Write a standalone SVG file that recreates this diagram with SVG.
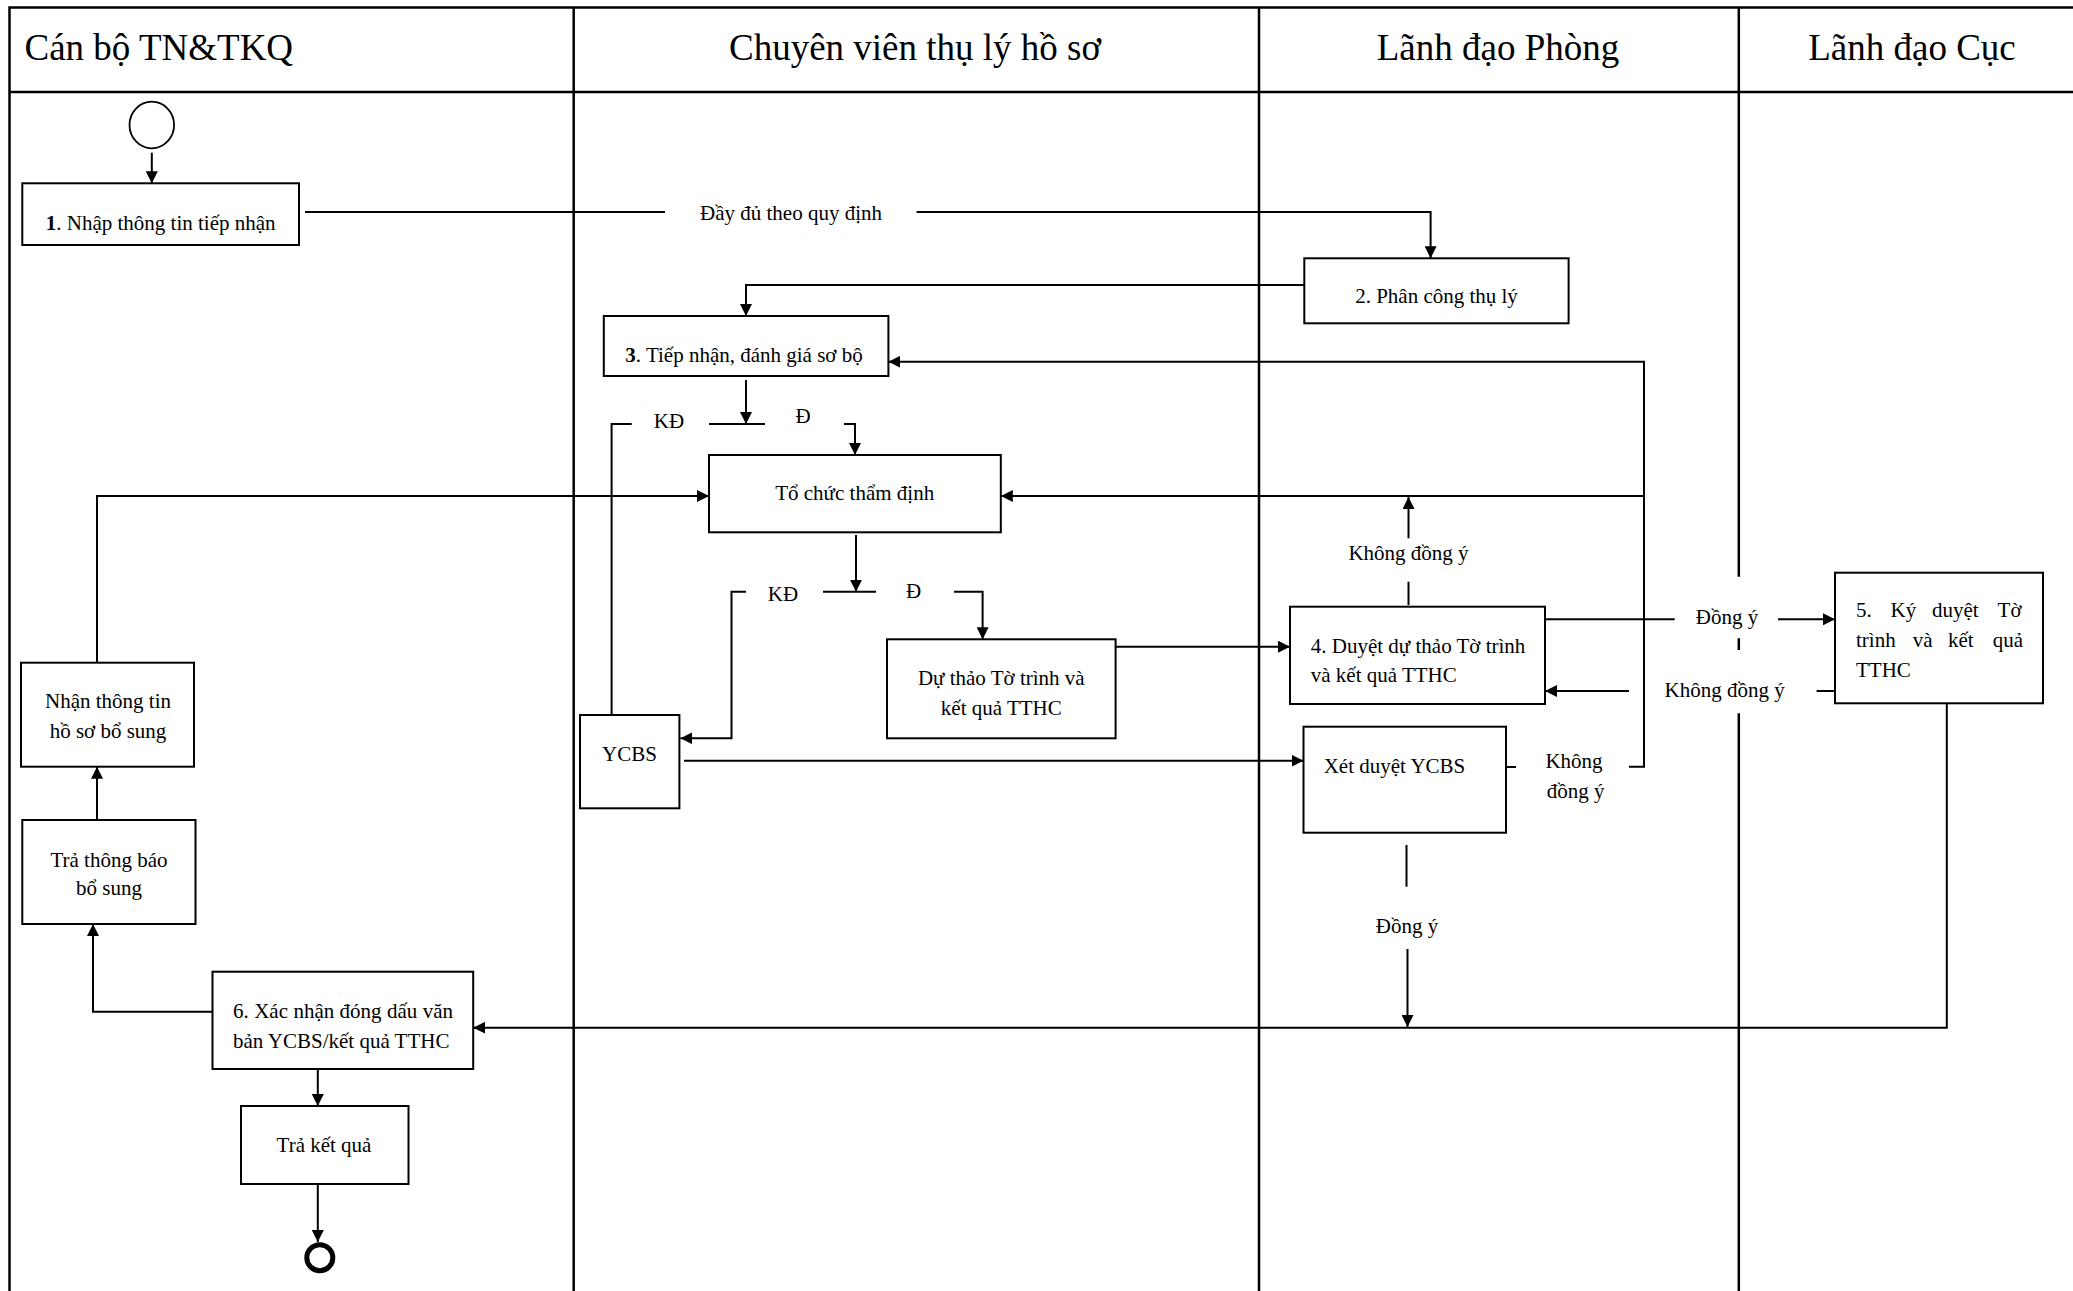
<svg xmlns="http://www.w3.org/2000/svg" width="2073" height="1291" viewBox="0 0 2073 1291">
<defs>
<style>
.fr{stroke:#000;stroke-width:2.5;fill:none}
.ln{stroke:#000;stroke-width:2;fill:none}
.ar{marker-end:url(#ah)}
.box{fill:#fff;stroke:#000;stroke-width:2}
.t{font-family:"Liberation Serif","Times New Roman","DejaVu Serif",serif;font-size:21px;fill:#000}
.c{text-anchor:middle}
.h{font-size:37px}
.b{font-weight:bold}
</style>
<marker id="ah" viewBox="0 0 10 10" refX="10" refY="5" markerWidth="12" markerHeight="12" markerUnits="userSpaceOnUse" orient="auto"><path d="M0,0 L10,5 L0,10 z" fill="#000"/></marker>
</defs>
<rect width="2073" height="1291" fill="#fff"/>
<g id="lanes">
<path class="fr" d="M9.5,1291 V7.5 H2073 M9.5,92 H2073 M573.7,7.5 V1291 M1259,7.5 V1291 M1738.8,7.5 V576.7 M1738.8,638.3 V650 M1738.8,713.3 V1291"/>
<text class="t h" x="24.5" y="60">Cán bộ TN&amp;TKQ</text>
<text class="t h c" x="915" y="60">Chuyên viên thụ lý hồ sơ</text>
<text class="t h c" x="1498" y="60">Lãnh đạo Phòng</text>
<text class="t h c" x="1912" y="60">Lãnh đạo Cục</text>
</g>
<g id="connectors">
<path class="ln ar" d="M151.8,152.7 V183.3"/>
<path class="ln" d="M305,212 H665"/>
<path class="ln ar" d="M916.6,212 H1430.6 V258.3"/>
<path class="ln ar" d="M1304.3,285 H746 V316"/>
<path class="ln ar" d="M746,380 V424"/>
<path class="ln" d="M709,424 H765"/>
<path class="ln" d="M631.7,424 H611.6 V715"/>
<path class="ln ar" d="M844,424 H855 V455"/>
<path class="ln ar" d="M856,535 V591.7"/>
<path class="ln" d="M823,591.7 H876"/>
<path class="ln ar" d="M746,591.7 H731.5 V738.3 H680.4"/>
<path class="ln ar" d="M954,591.7 H982.6 V639.3"/>
<path class="ln ar" d="M1115.6,646.7 H1290"/>
<path class="ln ar" d="M684,760.7 H1303.5"/>
<path class="ln ar" d="M97,662.7 V496 H709"/>
<path class="ln ar" d="M97,820 V766.7"/>
<path class="ln ar" d="M212.5,1011.7 H93 V924"/>
<path class="ln ar" d="M317.8,1069 V1106"/>
<path class="ln ar" d="M317.8,1184 V1242"/>
<path class="ln ar" d="M1629,766.7 H1644 V361.7 H888.4"/>
<path class="ln ar" d="M1644,496 H1000.8"/>
<path class="ln" d="M1408.5,605 V581.7"/>
<path class="ln ar" d="M1408.5,538.3 V497"/>
<path class="ln" d="M1545,619.3 H1674.7"/>
<path class="ln ar" d="M1778,619.3 H1835"/>
<path class="ln" d="M1835,691 H1816.6"/>
<path class="ln ar" d="M1629,691 H1545"/>
<path class="ln" d="M1506,767 H1516"/>
<path class="ln" d="M1406.5,845 V886.7"/>
<path class="ln ar" d="M1407.5,949 V1027"/>
<path class="ln ar" d="M1946.8,703.3 V1027.7 H473.2"/>
<text class="t c" x="791" y="220">Đầy đủ theo quy định</text>
<text class="t c" x="669" y="428">KĐ</text>
<text class="t c" x="803" y="423">Đ</text>
<text class="t c" x="783" y="601">KĐ</text>
<text class="t c" x="913.5" y="598">Đ</text>
<text class="t c" x="1408.5" y="560">Không đồng ý</text>
<text class="t c" x="1727" y="623.5">Đồng ý</text>
<text class="t c" x="1724.7" y="697">Không đồng ý</text>
<text class="t c" x="1574" y="768">Không</text>
<text class="t c" x="1575.5" y="798">đồng ý</text>
<text class="t c" x="1407" y="933.3">Đồng ý</text>
</g>
<g id="start"><ellipse cx="151.8" cy="125" rx="22.3" ry="23.3" fill="#fff" stroke="#000" stroke-width="1.8"/></g>
<g id="n1"><rect class="box" x="22.3" y="183.3" width="276.7" height="61.7"/><text class="t c" x="160.7" y="230"><tspan class="b">1</tspan>. Nhập thông tin tiếp nhận</text></g>
<g id="n2"><rect class="box" x="1304.3" y="258.3" width="264.3" height="65"/><text class="t c" x="1436.5" y="303.3">2. Phân công thụ lý</text></g>
<g id="n3"><rect class="box" x="603.8" y="316" width="284.6" height="60"/><text class="t c" x="744" y="361.7"><tspan class="b">3</tspan>. Tiếp nhận, đánh giá sơ bộ</text></g>
<g id="tochuc"><rect class="box" x="709" y="455" width="291.8" height="77.3"/><text class="t c" x="854.7" y="500">Tổ chức thẩm định</text></g>
<g id="duthao"><rect class="box" x="887" y="639.3" width="228.6" height="99"/><text class="t c" x="1001.3" y="685">Dự thảo Tờ trình và</text><text class="t c" x="1001.3" y="715">kết quả TTHC</text></g>
<g id="ycbs"><rect class="box" x="580" y="715" width="99.4" height="93.3"/><text class="t c" x="629.5" y="760.7">YCBS</text></g>
<g id="n4"><rect class="box" x="1290" y="606.7" width="255" height="97.3"/><text class="t" x="1310.8" y="653.3">4. Duyệt dự thảo Tờ trình</text><text class="t" x="1310.8" y="681.7">và kết quả TTHC</text></g>
<g id="xetduyet"><rect class="box" x="1303.5" y="726.7" width="202.5" height="106"/><text class="t" x="1323.7" y="772.7">Xét duyệt YCBS</text></g>
<g id="n5"><rect class="box" x="1835" y="572.7" width="208" height="130.6"/>
<text class="t" y="616.7"><tspan x="1856">5.</tspan><tspan x="1890.6">Ký</tspan><tspan x="1932">duyệt</tspan><tspan x="1997.6">Tờ</tspan></text>
<text class="t" y="646.7"><tspan x="1856">trình</tspan><tspan x="1912.8">và</tspan><tspan x="1948">kết</tspan><tspan x="1992.7">quả</tspan></text>
<text class="t" x="1856" y="676.7">TTHC</text></g>
<g id="n6"><rect class="box" x="212.5" y="971.7" width="260.7" height="97.3"/>
<text class="t" y="1018.3"><tspan x="233">6.</tspan><tspan x="254.2">Xác</tspan><tspan x="293.4">nhận</tspan><tspan x="339.6">đóng</tspan><tspan x="387">dấu</tspan><tspan x="422.7">văn</tspan></text>
<text class="t" x="233" y="1048.3">bản YCBS/kết quả TTHC</text></g>
<g id="trakq"><rect class="box" x="241" y="1106" width="167.5" height="78"/><text class="t c" x="324" y="1151.7">Trả kết quả</text></g>
<g id="end"><circle cx="319.8" cy="1257.7" r="13" fill="#fff" stroke="#000" stroke-width="5"/></g>
<g id="trathongbao"><rect class="box" x="22.3" y="820" width="173.2" height="104"/><text class="t c" x="109" y="866.7">Trả thông báo</text><text class="t c" x="109" y="895">bổ sung</text></g>
<g id="nhanthongtin"><rect class="box" x="21" y="662.7" width="173" height="104"/><text class="t c" x="108" y="708.3">Nhận thông tin</text><text class="t c" x="108" y="738.3">hồ sơ bổ sung</text></g>
</svg>
